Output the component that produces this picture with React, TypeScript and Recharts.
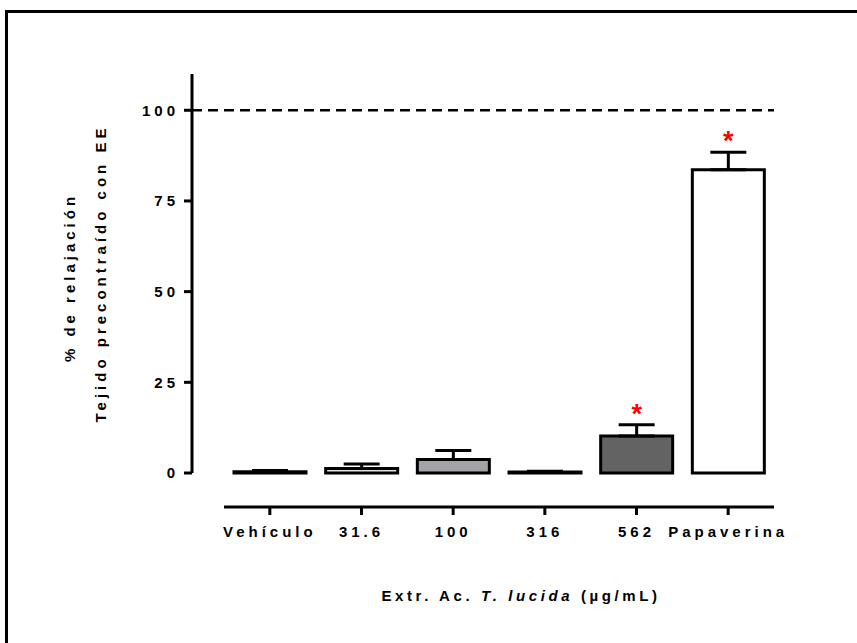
import { BarChart, Bar, XAxis, YAxis, ErrorBar, Cell, ReferenceLine, LabelList } from "recharts";

const categories = ["Vehículo", "31.6", "100", "316", "562", "Papaverina"];
const means = [0.36, 1.25, 3.7, 0.3, 10.2, 83.6];
const sem = [0.3, 1.2, 2.5, 0.2, 3.1, 4.8];
const significant = [false, false, false, false, true, true];
const fills = ["#ffffff", "#e3e3e3", "#a3a3a7", "#ffffff", "#636363", "#ffffff"];
const yTicks = [0, 25, 50, 75, 100];

const data = categories.map((name, i) => ({
  name,
  value: means[i],
  err: [0, sem[i]],
}));

const FONT = "'Liberation Sans', Arial, sans-serif";

function YLabel(props: any) {
  const vb = props.viewBox || {};
  const cy = vb.y + vb.height / 2;
  return (
    <g fontSize={15} fontWeight={700} fill="#000">
      <text x={69} y={cy + 4} transform={`rotate(-90 69 ${cy + 4})`} textAnchor="middle" dominantBaseline="central">
        % de relajación
      </text>
      <text x={100} y={cy} transform={`rotate(-90 100 ${cy})`} textAnchor="middle" dominantBaseline="central">
        Tejido precontraído con EE
      </text>
    </g>
  );
}

function XLabel(props: any) {
  const vb = props.viewBox || {};
  const cx = vb.x + vb.width / 2 + 38;
  return (
    <text x={cx} y={601} textAnchor="middle" fontSize={15} fontWeight={700} fill="#000" style={{ letterSpacing: "3.6px" }}>
      Extr. Ac. <tspan fontStyle="italic">T. lucida</tspan> (µg/mL)
    </text>
  );
}

function Star(props: any) {
  const { x, y, width, height, index } = props;
  if (!significant[index]) return null;
  const perUnit = height / means[index];
  const capY = y - sem[index] * perUnit;
  return (
    <text x={x + width / 2} y={capY - 2} textAnchor="middle" fontSize={27} fontWeight={700} fill="#ff0000" style={{ letterSpacing: 0 }}>
      *
    </text>
  );
}

export default function App() {
  return (
    <div style={{ position: "absolute", left: 0, top: 0, width: 857, height: 643, overflow: "hidden", background: "#fff", fontFamily: FONT, fontWeight: 700, letterSpacing: "4px" }}>
      <div style={{ position: "absolute", left: 5, top: 10, width: 900, height: 700, borderLeft: "3px solid #000", borderTop: "3px solid #000" }} />
      <BarChart width={857} height={643} data={data} margin={{ top: 74, right: 83, bottom: 110, left: 0 }} barSize={72}>
        <ReferenceLine y={100} stroke="#000" strokeWidth={2.5} strokeDasharray="10 6" ifOverflow="extendDomain" />
        <XAxis
          dataKey="name"
          height={60}
          padding={{ left: 32, right: 0 }}
          axisLine={{ stroke: "#000", strokeWidth: 3, strokeDasharray: "0 32 1000", transform: "translate(0 34)" }}
          tickLine={{ stroke: "#000", strokeWidth: 3, transform: "translate(0 34)" }}
          tickSize={8}
          tickMargin={45}
          tick={{ fill: "#000", fontSize: 15, fontWeight: 700 }}
          interval={0}
          label={<XLabel />}
        />
        <YAxis
          width={192}
          domain={[0, 110]}
          ticks={yTicks}
          axisLine={{ stroke: "#000", strokeWidth: 3 }}
          tickLine={{ stroke: "#000", strokeWidth: 3 }}
          tickSize={8}
          tickMargin={5}
          tick={{ fill: "#000", fontSize: 15, fontWeight: 700 }}
          label={<YLabel />}
        />
        <Bar dataKey="value" stroke="#000" strokeWidth={3} isAnimationActive={false}>
          {data.map((_, i) => (
            <Cell key={i} fill={fills[i]} />
          ))}
          <ErrorBar dataKey="err" direction="y" width={18} stroke="#000" strokeWidth={3} />
          <LabelList dataKey="value" content={<Star />} />
        </Bar>
      </BarChart>
    </div>
  );
}
